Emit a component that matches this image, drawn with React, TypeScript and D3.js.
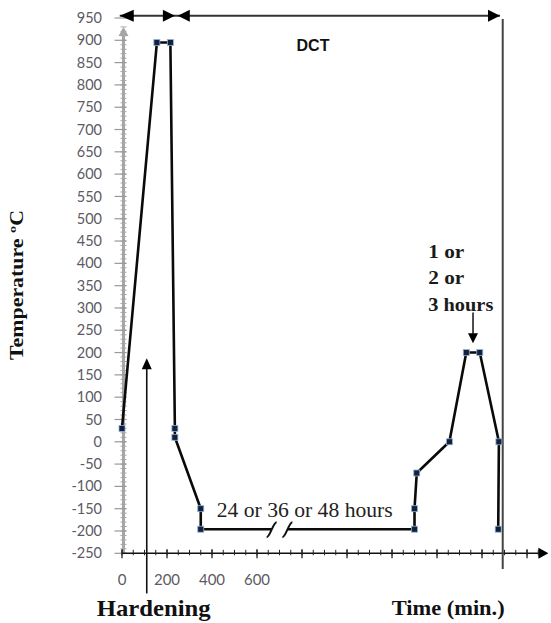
import React from "react";
import * as d3 from "d3";

// ---- data (time in minutes on a broken axis, temperature in °C) ----
const timeMin = [0, 155, 215, 235, 235, 350, 350, 1300, 1300, 1310, 1455, 1530, 1590, 1675, 1672];
const tempC = [30, 895, 895, 30, 10, -150, -196, -196, -150, -70, 0, 200, 200, 0, -196];
const yTickValues = d3.range(-250, 951, 50);
const yMinorValues = d3.range(-250, 931, 10);
const xTickLabels = [0, 200, 400, 600];
const xMajorTicks = d3.range(0, 1850, 200);
const xMinorTicks = d3.range(0, 1880, 50);
const breakTimes = [665, 735];
const holdTemp = -196;
const holdLabel = "24 or 36 or 48 hours";
const temperLines = ["1 or", "2 or", "3 hours"];
const phaseEdges = { start: -10, hardeningEnd: 235, dctStart: 248, dctEnd: 1680, dctLine: 1692 };
const hardeningArrowTime = 110;
const temperArrowTime = 1560;

const W = 551;
const H = 623;

const X = d3.scaleLinear().domain([0, 1895]).range([122, 548.4]);
const Y = d3.scaleLinear().domain([-250, 950]).range([553.3, 18]);

const tickFont = "Lato, 'Open Sans', sans-serif";
const serif = "'Liberation Serif', 'Times New Roman', serif";

function ArrowHead({ x, y, dir, len = 11, half = 5, fill = "#000" }: { x: number; y: number; dir: "up" | "down" | "left" | "right"; len?: number; half?: number; fill?: string }) {
  let pts: [number, number][] = [];
  if (dir === "right") pts = [[x, y], [x - len, y - half], [x - len, y + half]];
  if (dir === "left") pts = [[x, y], [x + len, y - half], [x + len, y + half]];
  if (dir === "up") pts = [[x, y], [x - half, y + len], [x + half, y + len]];
  if (dir === "down") pts = [[x, y], [x - half, y - len], [x + half, y - len]];
  return <polygon points={pts.map((p) => p.join(",")).join(" ")} fill={fill} />;
}

export default function App() {
  const pts = timeMin.map((t, i) => ({ t, v: tempC[i] }));
  // split the hold at the axis break
  const holdStartIdx = 6; // (350,-196)
  const seg1 = [...pts.slice(0, holdStartIdx + 1), { t: breakTimes[0], v: holdTemp }];
  const seg2 = [{ t: breakTimes[1], v: holdTemp }, ...pts.slice(holdStartIdx + 1)];
  const line = d3
    .line<{ t: number; v: number }>()
    .x((d) => X(d.t))
    .y((d) => Y(d.v));

  const axisX = X(0) + 1.5;
  const axisY = Y(-250);
  const topY = Y(955);

  return (
    <div style={{ position: "absolute", left: 0, top: 0 }}>
      <svg width={W} height={H} style={{ display: "block", background: "#fff" }}>
        {/* y axis (gray) */}
        <line x1={axisX} x2={axisX} y1={axisY} y2={Y(925)} stroke="#a6a6a6" strokeWidth={3} />
        <ArrowHead x={axisX} y={Y(930)} dir="up" len={9} half={5} fill="#a6a6a6" />
        {yMinorValues.map((v) => (
          <line key={"ym" + v} x1={axisX - 3} x2={axisX + 3} y1={Y(v)} y2={Y(v)} stroke="#a6a6a6" strokeWidth={1} />
        ))}
        {yTickValues.map((v) => (
          <line key={"yM" + v} x1={axisX - 9} x2={axisX + 3} y1={Y(v)} y2={Y(v)} stroke="#999" strokeWidth={1.2} />
        ))}
        {yTickValues.map((v) => (
          <text key={"yl" + v} x={102} y={Y(v)} dy="0.35em" textAnchor="end" fontFamily={tickFont} fontSize={14.5} fill="#5b5b63">
            {v}
          </text>
        ))}

        {/* x axis */}
        <line x1={X(0)} x2={X(1880)} y1={axisY} y2={axisY} stroke="#111" strokeWidth={1.6} />
        <ArrowHead x={X(1895)} y={axisY} dir="right" len={10} half={5.5} />
        {xMinorTicks.map((t) => (
          <line key={"xm" + t} x1={X(t)} x2={X(t)} y1={axisY - 3.5} y2={axisY + 2} stroke="#222" strokeWidth={1} />
        ))}
        {xMajorTicks.map((t) => (
          <line key={"xM" + t} x1={X(t)} x2={X(t)} y1={axisY - 4} y2={axisY + 5} stroke="#222" strokeWidth={1.3} />
        ))}
        {xTickLabels.map((t) => (
          <text key={"xl" + t} x={X(t)} y={585} textAnchor="middle" fontFamily={tickFont} fontSize={15} fill="#5b5b63">
            {t}
          </text>
        ))}

        {/* phase arrows on top */}
        <line x1={X(phaseEdges.start)} x2={X(phaseEdges.dctEnd)} y1={topY} y2={topY} stroke="#333" strokeWidth={2} />
        <ArrowHead x={X(phaseEdges.start)} y={topY} dir="left" len={14} half={6} />
        <ArrowHead x={X(phaseEdges.hardeningEnd)} y={topY} dir="right" len={12} half={6} />
        <ArrowHead x={X(phaseEdges.dctStart)} y={topY} dir="left" len={12} half={6} />
        <ArrowHead x={X(phaseEdges.dctEnd)} y={topY} dir="right" len={12} half={6} />
        <line x1={X(phaseEdges.dctLine)} x2={X(phaseEdges.dctLine)} y1={Y(948)} y2={Y(-285)} stroke="#444" strokeWidth={2} />
        <text x={313} y={51} textAnchor="middle" fontFamily="'Liberation Sans', Arial, sans-serif" fontWeight="bold" fontSize={16} fill="#111">
          DCT
        </text>

        {/* hardening arrow */}
        <line x1={X(hardeningArrowTime)} x2={X(hardeningArrowTime)} y1={Y(-340)} y2={Y(180)} stroke="#111" strokeWidth={1.6} />
        <ArrowHead x={X(hardeningArrowTime)} y={Y(187)} dir="up" len={11} half={5} />

        {/* temperature profile */}
        <path d={line(seg1) || ""} fill="none" stroke="#0a0a0a" strokeWidth={2.6} strokeLinejoin="round" />
        <path d={line(seg2) || ""} fill="none" stroke="#0a0a0a" strokeWidth={2.6} strokeLinejoin="round" />
        {breakTimes.map((t) => {
          const x = X(t);
          const y = Y(holdTemp);
          return (
            <path
              key={"br" + t}
              d={`M${x - 5},${y + 8} C${x - 1.5},${y + 8} ${x + 1.5},${y - 7} ${x + 5},${y - 7}`}
              fill="none"
              stroke="#111"
              strokeWidth={2}
            />
          );
        })}
        {pts.map((p, i) => (
          <rect key={"m" + i} x={X(p.t) - 3} y={Y(p.v) - 3} width={6} height={6} fill="#14213d" stroke="#8fb3d9" strokeWidth={0.8} />
        ))}

        {/* annotations */}
        <text x={216.7} y={517} fontFamily={serif} fontSize={20} fill="#222" textLength={176} lengthAdjust="spacingAndGlyphs">
          {holdLabel}
        </text>
        {temperLines.map((s, i) => (
          <text
            key={s}
            x={428.3}
            y={257.5 + i * 26.5}
            fontFamily={serif}
            fontWeight="bold"
            fontSize={18}
            fill="#1a1a1a"
            textLength={i === 2 ? 65 : 36}
            lengthAdjust="spacingAndGlyphs"
          >
            {s}
          </text>
        ))}
        <line x1={X(temperArrowTime)} x2={X(temperArrowTime)} y1={Y(290)} y2={Y(230)} stroke="#111" strokeWidth={1.5} />
        <ArrowHead x={X(temperArrowTime)} y={Y(221)} dir="down" len={10} half={5} />

        <text
          transform={`translate(23,285) rotate(-90)`}
          textAnchor="middle"
          fontFamily={serif}
          fontWeight="bold"
          fontSize={18}
          fill="#111"
          textLength={150}
          lengthAdjust="spacingAndGlyphs"
        >
          Temperature ºC
        </text>
        <text x={96.7} y={616} fontFamily={serif} fontWeight="bold" fontSize={24} fill="#111" textLength={114} lengthAdjust="spacingAndGlyphs">
          Hardening
        </text>
        <text x={391.7} y={615} fontFamily={serif} fontWeight="bold" fontSize={22} fill="#111" textLength={113} lengthAdjust="spacingAndGlyphs">
          Time (min.)
        </text>
      </svg>
    </div>
  );
}
